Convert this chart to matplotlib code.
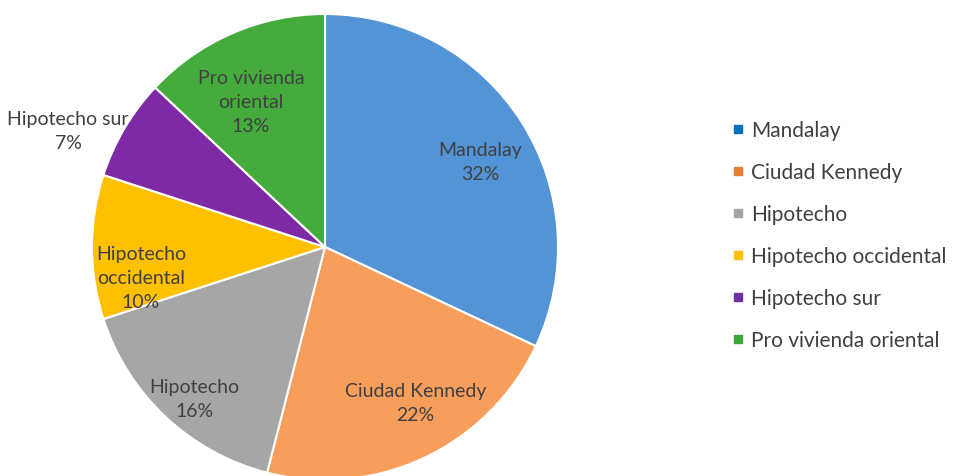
import numpy as np
import matplotlib.pyplot as plt
from matplotlib.lines import Line2D

plt.rcParams['font.family'] = ['Lato', 'DejaVu Sans']

categories = ['Mandalay', 'Ciudad Kennedy', 'Hipotecho', 'Hipotecho occidental',
              'Hipotecho sur', 'Pro vivienda oriental']
shares = [32, 22, 16, 10, 7, 13]
label_text = ['Mandalay', 'Ciudad Kennedy', 'Hipotecho', 'Hipotecho\noccidental',
              'Hipotecho sur', 'Pro vivienda\noriental']

slice_colors = ['#5294D6', '#F89E5C', '#A6A6A6', '#FFC000', '#7E2AA5', '#45AB3C']
legend_colors = ['#0070C0', '#ED7D31', '#A5A5A5', '#FFC000', '#7030A0', '#3BA535']
# radial position and angle nudge (deg) of each data label, Excel "best fit" style
label_r = [0.76, 0.77, 0.86, 0.80, 1.21, 0.70]
label_nudge = [-3.4, 5, 2.5, 9.3, 6.3, 3.6]

fig = plt.figure(figsize=(9.62, 4.77), dpi=100)
ax = fig.add_axes([92 / 962, -4 / 477, 466 / 962, 466 / 477])
wedges, _ = ax.pie(shares, colors=slice_colors, startangle=90, counterclock=False,
                   radius=1, wedgeprops=dict(edgecolor='white', linewidth=1.5))
ax.set_xlim(-1, 1)
ax.set_ylim(-1, 1)
ax.set_aspect('equal')

for w, txt, val, r, nd in zip(wedges, label_text, shares, label_r, label_nudge):
    mid = np.deg2rad((w.theta1 + w.theta2) / 2 + nd)
    x, y = r * np.cos(mid), r * np.sin(mid)
    ax.text(x, y, f'{txt}\n{val}%', ha='center', va='center', fontsize=14,
            color='#404040', linespacing=1.5, clip_on=False)

handles = [Line2D([], [], marker='s', linestyle='None', markersize=6,
                  markerfacecolor=c, markeredgecolor=c) for c in legend_colors]
fig.legend(handles, categories, loc='center left', bbox_to_anchor=(0.742, 0.505),
           frameon=False, fontsize=15, labelspacing=1.05, handlelength=0.5,
           handletextpad=0.4, labelcolor='#404040')

fig.savefig('out.png', dpi=100, facecolor='white')
